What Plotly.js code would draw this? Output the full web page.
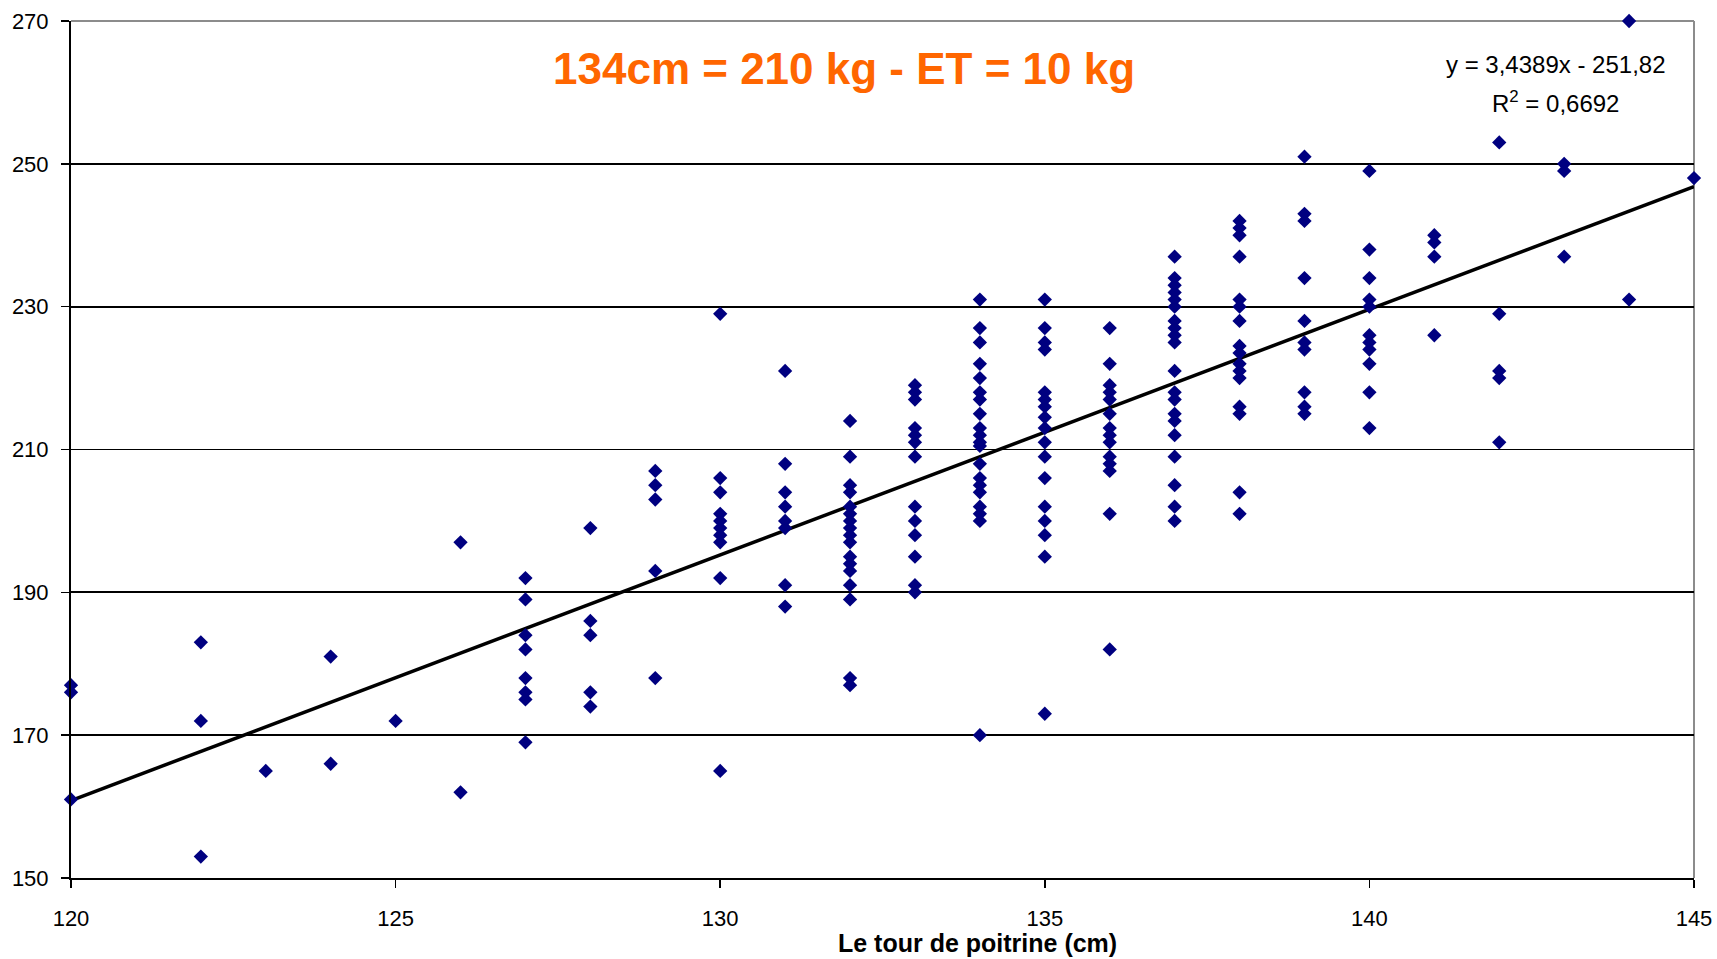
<!DOCTYPE html>
<html>
<head>
<meta charset="utf-8">
<script src="https://cdn.plot.ly/plotly-3.0.1.min.js"></script>
<style>
  html, body { margin: 0; padding: 0; background: #ffffff; }
  #chart { width: 1717px; height: 959px; }
</style>
</head>
<body>
<div id="chart"></div>
<script>
// Chest girth columns (cm) and the weights (kg) measured at each girth
const girthColumns = [120, 122, 123, 124, 125, 126, 127, 128, 129, 130, 131, 132, 133, 134, 135, 136, 137, 138, 139, 140, 141, 142, 143, 144, 145];
const weightsAt120 = [177, 176, 161];
const weightsAt122 = [183, 172, 153];
const weightsAt123 = [165];
const weightsAt124 = [181, 166];
const weightsAt125 = [172];
const weightsAt126 = [197, 162];
const weightsAt127 = [192, 189, 184, 182, 178, 176, 175, 169];
const weightsAt128 = [199, 186, 184, 176, 174];
const weightsAt129 = [207, 205, 203, 193, 178];
const weightsAt130 = [229, 206, 204, 201, 200, 199, 198, 197, 192, 165];
const weightsAt131 = [221, 208, 204, 202, 200, 199, 191, 188];
const weightsAt132 = [214, 209, 205, 204, 202, 201, 200, 199, 198, 197, 195, 194, 193, 191, 189, 178, 177];
const weightsAt133 = [219, 218, 217, 213, 212, 211, 209, 202, 200, 198, 195, 191, 190];
const weightsAt134 = [231, 227, 225, 222, 220, 218, 217, 215, 213, 212, 211, 210.5, 208, 206, 205, 204, 202, 201, 200, 170];
const weightsAt135 = [231, 227, 225, 224, 218, 217, 216, 214.5, 213, 211, 209, 206, 202, 200, 198, 195, 173];
const weightsAt136 = [227, 222, 219, 218, 217, 215, 213, 212, 211, 209, 208, 207, 201, 182];
const weightsAt137 = [237, 234, 233, 232, 231, 230, 228, 227, 226, 225, 221, 218, 217, 215, 214, 212, 209, 205, 202, 200];
const weightsAt138 = [242, 241, 240, 237, 231, 230, 228, 224.5, 223.5, 222, 221, 220, 216, 215, 204, 201];
const weightsAt139 = [251, 243, 242, 234, 228, 225, 224, 218, 216, 215];
const weightsAt140 = [249, 238, 234, 231, 230, 226, 225, 224, 222, 218, 213];
const weightsAt141 = [240, 239, 237, 226];
const weightsAt142 = [253, 229, 221, 220, 211];
const weightsAt143 = [250, 249, 237];
const weightsAt144 = [270, 231];
const weightsAt145 = [248];
const weightColumns = [weightsAt120, weightsAt122, weightsAt123, weightsAt124, weightsAt125, weightsAt126, weightsAt127, weightsAt128, weightsAt129, weightsAt130, weightsAt131, weightsAt132, weightsAt133, weightsAt134, weightsAt135, weightsAt136, weightsAt137, weightsAt138, weightsAt139, weightsAt140, weightsAt141, weightsAt142, weightsAt143, weightsAt144, weightsAt145];

// Linear trend shown on the chart
const trendSlope = 3.4389;
const trendIntercept = -251.82;
const trendRange = [120, 145];

// Axis ticks
const xTicks = [120, 125, 130, 135, 140, 145];
const yTicks = [150, 170, 190, 210, 230, 250, 270];

// Text
const titleText = "134cm = 210 kg - ET = 10 kg";
const equationText = "y = 3,4389x - 251,82";
const r2Text = "R<sup>2</sup> = 0,6692";
const xTitleText = "Le tour de poitrine (cm)";

const px = [], py = [];
girthColumns.forEach((g, i) => {
  weightColumns[i].forEach(w => { px.push(g); py.push(w); });
});

const trendX = trendRange.slice();
const trendY = trendX.map(v => trendSlope * v + trendIntercept);

const FONT = "Liberation Sans, Arial, sans-serif";

const traces = [
  {
    type: "scatter", mode: "lines",
    x: trendX, y: trendY,
    line: { color: "#000000", width: 3.5 },
    hoverinfo: "skip", showlegend: false, cliponaxis: false
  },
  {
    type: "scatter", mode: "markers",
    x: px, y: py,
    marker: { symbol: "diamond", color: "#000080", size: 11, line: { width: 0 } },
    showlegend: false, cliponaxis: false
  }
];

const layout = {
  width: 1717, height: 959,
  margin: { l: 71, r: 23, t: 21, b: 81, pad: 0 },
  paper_bgcolor: "#ffffff", plot_bgcolor: "#ffffff",
  font: { family: FONT, color: "#000000", size: 22 },
  showlegend: false,
  xaxis: {
    range: [120, 145], tickvals: xTicks, ticktext: xTicks.map(String),
    showgrid: false, zeroline: false,
    showline: true, linecolor: "#000000", linewidth: 2,
    ticks: "outside", ticklen: 8, tickwidth: 1.5, tickcolor: "#000000",
    tickfont: { family: FONT, size: 22, color: "#000000" },
    ticklabelstandoff: 12
  },
  yaxis: {
    range: [150, 270], tickvals: yTicks, ticktext: yTicks.map(String),
    showgrid: true, gridcolor: "#000000", gridwidth: 1.8, zeroline: false,
    showline: true, linecolor: "#000000", linewidth: 2,
    ticks: "outside", ticklen: 8, tickwidth: 1.5, tickcolor: "#000000",
    tickfont: { family: FONT, size: 22, color: "#000000" },
    ticklabelstandoff: 8
  },
  shapes: [
    { type: "line", xref: "paper", yref: "paper", x0: 0, x1: 1, y0: 1, y1: 1, line: { color: "#8c8c8c", width: 2 }, layer: "below" },
    { type: "line", xref: "paper", yref: "paper", x0: 1, x1: 1, y0: 0, y1: 1, line: { color: "#8c8c8c", width: 2 }, layer: "below" }
  ],
  annotations: [
    { text: "<b>" + titleText + "</b>", xref: "x", yref: "y", x: 131.91, y: 263.3, xanchor: "center", yanchor: "middle",
      showarrow: false, font: { family: FONT, size: 44, color: "#FF6600" } },
    { text: equationText, xref: "x", yref: "y", x: 142.87, y: 263.9, xanchor: "center", yanchor: "middle",
      showarrow: false, font: { family: FONT, size: 24, color: "#000000" } },
    { text: r2Text, xref: "x", yref: "y", x: 142.87, y: 258.7, xanchor: "center", yanchor: "middle",
      showarrow: false, font: { family: FONT, size: 24, color: "#000000" } },
    { text: "<b>" + xTitleText + "</b>", xref: "x", yref: "paper", x: 133.96, y: -0.0753, xanchor: "center", yanchor: "middle",
      showarrow: false, font: { family: FONT, size: 25, color: "#000000" } }
  ]
};

Plotly.newPlot("chart", traces, layout, { displayModeBar: false, staticPlot: true });
</script>
</body>
</html>
